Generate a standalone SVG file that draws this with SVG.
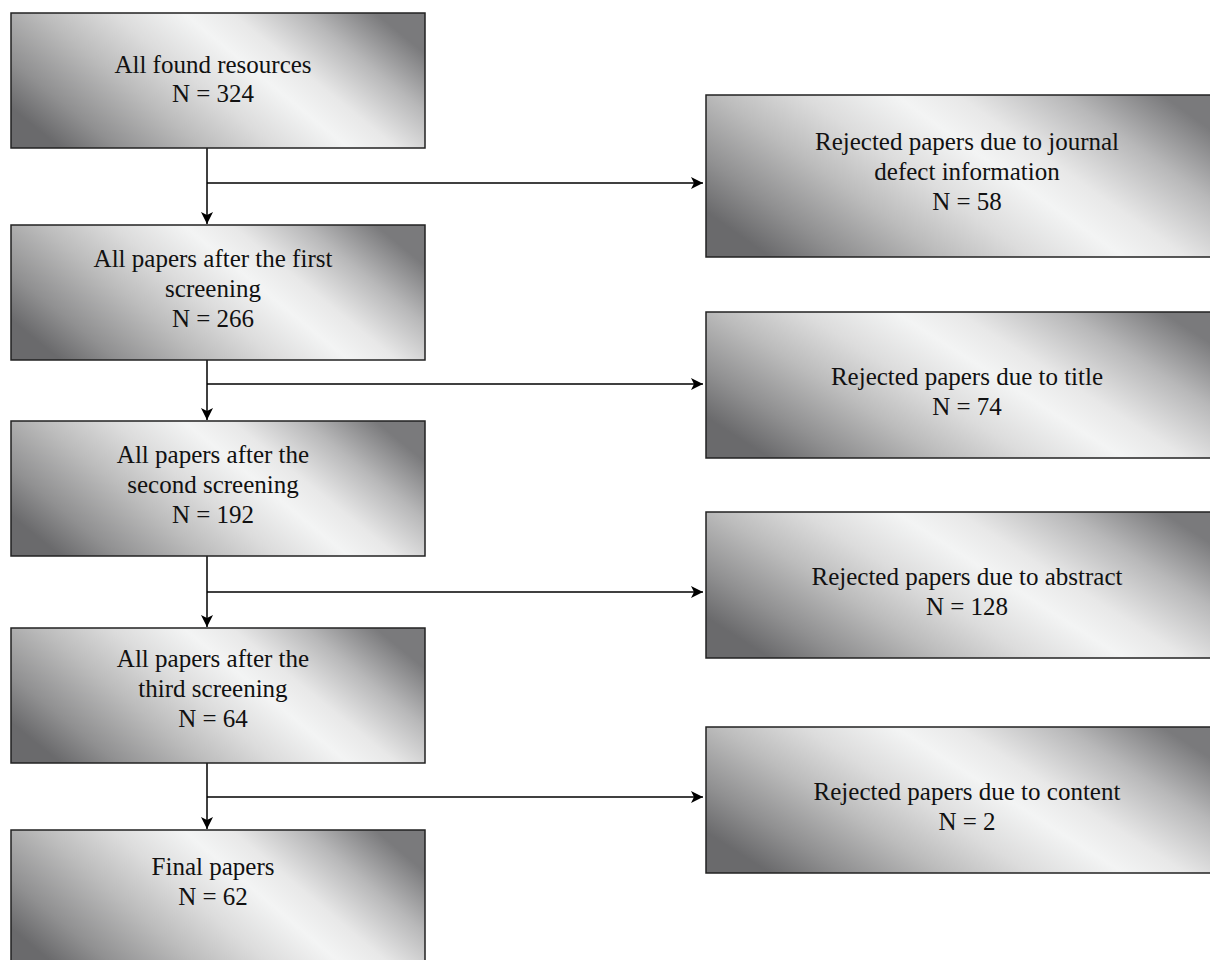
<svg xmlns="http://www.w3.org/2000/svg" width="1210" height="960" viewBox="0 0 1210 960">
<defs>
<linearGradient id="gL" x1="0" y1="0.7" x2="1" y2="0.3">
<stop offset="0" stop-color="#6a6a6c"/>
<stop offset="0.12" stop-color="#909091"/>
<stop offset="0.3" stop-color="#bcbcbc"/>
<stop offset="0.45" stop-color="#dcdcdc"/>
<stop offset="0.6" stop-color="#f3f4f4"/>
<stop offset="0.7" stop-color="#e8e8e8"/>
<stop offset="0.85" stop-color="#b8b8b9"/>
<stop offset="1" stop-color="#7a7a7c"/>
</linearGradient>
<linearGradient id="gR" x1="0" y1="0.72" x2="1" y2="0.28">
<stop offset="0" stop-color="#6a6a6c"/>
<stop offset="0.12" stop-color="#909091"/>
<stop offset="0.28" stop-color="#bcbcbc"/>
<stop offset="0.42" stop-color="#dcdcdc"/>
<stop offset="0.57" stop-color="#f3f4f4"/>
<stop offset="0.67" stop-color="#e8e8e8"/>
<stop offset="0.84" stop-color="#b8b8b9"/>
<stop offset="1" stop-color="#7a7a7c"/>
</linearGradient>
<marker id="arr" markerWidth="13" markerHeight="12" refX="12" refY="6" orient="auto" markerUnits="userSpaceOnUse">
<path d="M0,0 L12,6 L0,12 L3,6 z" fill="#000"/>
</marker>
</defs>
<style>
.bl{fill:url(#gL);stroke:#222;stroke-width:1.5}
.br{fill:url(#gR);stroke:#222;stroke-width:1.5}
.t{font-family:"Liberation Serif","Times New Roman",serif;font-size:25px;fill:#111;text-anchor:middle}
.c{fill:none;stroke:#000;stroke-width:1.5}
</style>
<rect width="1210" height="960" fill="#fff"/>
<g id="connectors">
<path class="c" d="M207,148 V224" marker-end="url(#arr)"/>
<path class="c" d="M207,183 H703" marker-end="url(#arr)"/>
<path class="c" d="M207,360 V420" marker-end="url(#arr)"/>
<path class="c" d="M207,384 H703" marker-end="url(#arr)"/>
<path class="c" d="M207,556 V627" marker-end="url(#arr)"/>
<path class="c" d="M207,592 H703" marker-end="url(#arr)"/>
<path class="c" d="M207,763 V829" marker-end="url(#arr)"/>
<path class="c" d="M207,797 H703" marker-end="url(#arr)"/>
</g>
<g id="n1">
<rect class="bl" x="11" y="13" width="414" height="135"/>
<text class="t" x="213" y="73">All found resources</text>
<text class="t" x="213" y="102">N = 324</text>
</g>
<g id="n2">
<rect class="bl" x="11" y="225" width="414" height="135"/>
<text class="t" x="213" y="267">All papers after the first</text>
<text class="t" x="213" y="297">screening</text>
<text class="t" x="213" y="327">N = 266</text>
</g>
<g id="n3">
<rect class="bl" x="11" y="421" width="414" height="135"/>
<text class="t" x="213" y="463">All papers after the</text>
<text class="t" x="213" y="493">second screening</text>
<text class="t" x="213" y="523">N = 192</text>
</g>
<g id="n4">
<rect class="bl" x="11" y="628" width="414" height="135"/>
<text class="t" x="213" y="667">All papers after the</text>
<text class="t" x="213" y="697">third screening</text>
<text class="t" x="213" y="727">N = 64</text>
</g>
<g id="n5">
<rect class="bl" x="11" y="830" width="414" height="140"/>
<text class="t" x="213" y="875">Final papers</text>
<text class="t" x="213" y="905">N = 62</text>
</g>
<g id="r1">
<rect class="br" x="706" y="95" width="520" height="162"/>
<text class="t" x="967" y="150">Rejected papers due to journal</text>
<text class="t" x="967" y="180">defect information</text>
<text class="t" x="967" y="210">N = 58</text>
</g>
<g id="r2">
<rect class="br" x="706" y="312" width="520" height="146"/>
<text class="t" x="967" y="385">Rejected papers due to title</text>
<text class="t" x="967" y="415">N = 74</text>
</g>
<g id="r3">
<rect class="br" x="706" y="512" width="520" height="146"/>
<text class="t" x="967" y="585">Rejected papers due to abstract</text>
<text class="t" x="967" y="615">N = 128</text>
</g>
<g id="r4">
<rect class="br" x="706" y="727" width="520" height="146"/>
<text class="t" x="967" y="800">Rejected papers due to content</text>
<text class="t" x="967" y="830">N = 2</text>
</g>
</svg>
